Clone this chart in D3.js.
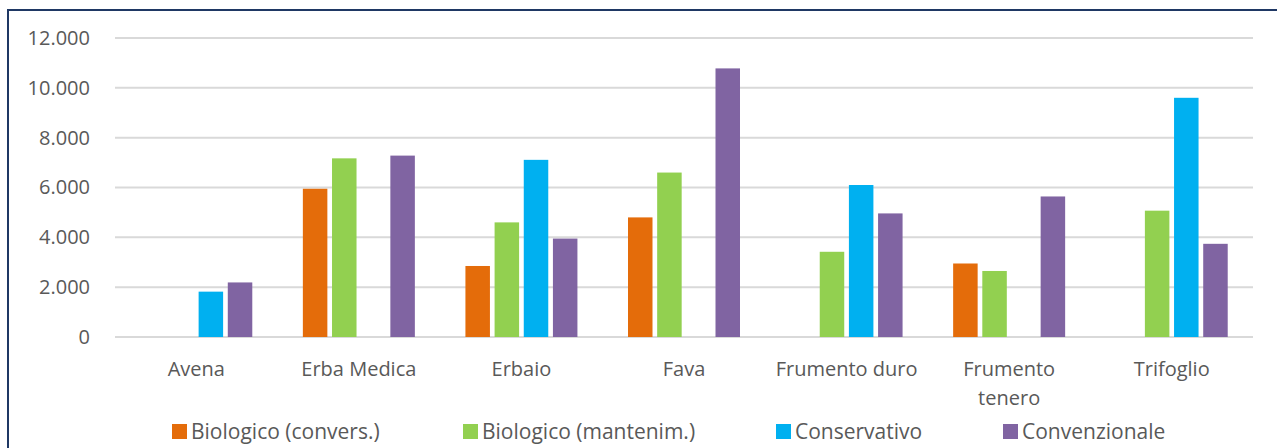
<!DOCTYPE html>
<html>
<head>
<meta charset="utf-8">
<script src="https://cdn.jsdelivr.net/npm/d3@7"></script>
<style>
  html, body { margin: 0; padding: 0; background: #fff; }
  svg { display: block; font-family: "Open Sans", sans-serif; }
</style>
</head>
<body>
<svg id="chart" width="1277" height="448"></svg>
<script>
const categories = ["Avena", "Erba Medica", "Erbaio", "Fava", "Frumento duro", "Frumento tenero", "Trifoglio"];
const seriesNames = ["Biologico (convers.)", "Biologico (mantenim.)", "Conservativo", "Convenzionale"];
const bioConvers   = [null, 5950, 2850, 4800, null, 2950, null];
const bioMantenim  = [null, 7170, 4600, 6600, 3420, 2650, 5070];
const conservativo = [1820, null, 7110, null, 6100, null, 9600];
const convenzionale = [2190, 7280, 3950, 10780, 4960, 5640, 3740];
const yTicks = [0, 2000, 4000, 6000, 8000, 10000, 12000];
const colors = ["#E46C0A", "#92D050", "#00B0F0", "#8064A2"];

const seriesValues = [bioConvers, bioMantenim, conservativo, convenzionale];
const svg = d3.select("#chart");
const W = 1277, H = 448;
const plot = { left: 115, right: 1253, top: 38, bottom: 337 };
const textColor = "#595959";
const fontSize = 20;

// outer border (frame cropped at right/bottom)
svg.append("rect").attr("x", 8).attr("y", 10).attr("width", W + 20).attr("height", H + 20)
  .attr("fill", "none").attr("stroke", "#1F3864").attr("stroke-width", 2);

const y = d3.scaleLinear().domain([0, 12000]).range([plot.bottom, plot.top]);
const x0 = d3.scaleBand().domain(categories).range([plot.left, plot.right]).padding(0);
const groupW = 112;
const off = (x0.bandwidth() - groupW) / 2;
const x1 = d3.scaleBand().domain(seriesNames).range([off, off + groupW]).paddingInner(0.16).paddingOuter(0);

// gridlines
svg.append("g").selectAll("line").data(yTicks).join("line")
  .attr("x1", plot.left).attr("x2", plot.right)
  .attr("y1", d => y(d)).attr("y2", d => y(d))
  .attr("stroke", "#D9D9D9").attr("stroke-width", 2);

// y axis labels
const fmt = d => d3.format(",")(d).replace(/,/g, ".");
const yAxis = d3.axisLeft(y).tickValues(yTicks).tickFormat(fmt).tickSize(0).tickPadding(0);
const yg = svg.append("g").attr("transform", `translate(90,0)`).call(yAxis);
yg.select(".domain").remove();
yg.selectAll("text").attr("fill", textColor).attr("font-size", fontSize)
  .attr("font-family", "'Open Sans', sans-serif");

// bars
const groups = svg.append("g").selectAll("g").data(categories).join("g")
  .attr("transform", d => `translate(${x0(d)},0)`);
groups.selectAll("rect")
  .data((c, i) => seriesNames.map((s, k) => ({ s, k, v: seriesValues[k][i] })).filter(d => d.v != null))
  .join("rect")
  .attr("x", d => x1(d.s))
  .attr("width", x1.bandwidth())
  .attr("y", d => y(d.v))
  .attr("height", d => y(0) - y(d.v))
  .attr("fill", d => colors[d.k]);

// x labels with wrapping
const xl = svg.append("g");
categories.forEach(c => {
  const cx = x0(c) + x0.bandwidth() / 2;
  const t = xl.append("text").attr("x", cx).attr("y", 376).attr("text-anchor", "middle")
    .attr("fill", textColor).attr("font-size", fontSize).text(c);
  if (t.node().getComputedTextLength() > 150) {
    const words = c.split(" ");
    t.text(null);
    words.forEach((w, i) => {
      t.append("tspan").attr("x", cx).attr("dy", i === 0 ? 0 : 29).text(w);
    });
  }
});

// legend
const legendX = [172, 463, 776, 1003];
const lg = svg.append("g");
seriesNames.forEach((s, k) => {
  const lx = legendX[k];
  lg.append("rect").attr("x", lx).attr("y", 424).attr("width", 15).attr("height", 15).attr("fill", colors[k]);
  lg.append("text").attr("x", lx + 19).attr("y", 439).attr("fill", textColor)
    .attr("font-size", 21).text(s);
});
</script>
</body>
</html>
